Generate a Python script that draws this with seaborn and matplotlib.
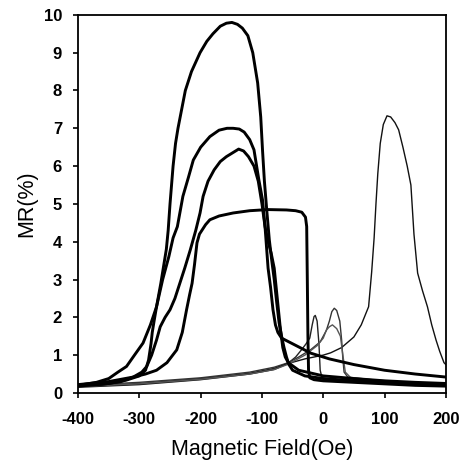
import matplotlib
matplotlib.use("Agg")
import matplotlib.pyplot as plt
import seaborn as sns
import pandas as pd

# ---- data ----
# thick curves (field swept one way)
a_x = [-400, -370, -350, -335, -321, -308, -294, -282, -272, -265, -260, -256, -253, -250, -247, -245, -241, -237, -231, -225, -215, -201, -190, -180, -168, -158, -149, -140, -132, -123, -115, -107, -102, -99, -96, -92, -88, -84, -80, -76, -72, -68, -64, -60, -56, -50, -30, 0, 50, 100, 150, 200]
a_y = [0.2, 0.28, 0.38, 0.55, 0.7, 1.0, 1.32, 1.8, 2.28, 2.9, 3.4, 3.8, 4.3, 5.0, 5.6, 6.0, 6.6, 7.0, 7.5, 8.0, 8.5, 9.0, 9.3, 9.5, 9.7, 9.78, 9.8, 9.75, 9.65, 9.45, 9.0, 8.2, 7.3, 6.4, 5.6, 4.8, 4.05, 3.5, 3.0, 2.4, 1.85, 1.5, 1.2, 0.95, 0.75, 0.6, 0.45, 0.38, 0.32, 0.28, 0.25, 0.22]

b_x = [-400, -350, -321, -300, -290, -285, -281, -279, -276, -272, -262, -252, -245, -238, -229, -220, -212, -200, -185, -170, -157, -147, -137, -129, -120, -113, -105, -99, -95, -90, -86, -82, -78, -74, -68, -50, -20, 10, 50, 100, 150, 200]
b_y = [0.18, 0.25, 0.34, 0.45, 0.6, 0.87, 1.3, 1.6, 1.9, 2.28, 3.0, 3.6, 4.1, 4.4, 5.2, 5.7, 6.16, 6.5, 6.78, 6.95, 7.0, 7.0, 6.98, 6.9, 6.7, 6.43, 5.63, 5.1, 4.4, 3.3, 2.8, 2.2, 1.8, 1.6, 1.45, 1.3, 1.05, 0.9, 0.75, 0.6, 0.5, 0.42]

c_x = [-400, -360, -330, -310, -296, -288, -280, -272, -266, -258, -250, -242, -234, -226, -217, -208, -201, -196, -188, -178, -168, -158, -148, -138, -130, -122, -113, -106, -100, -95, -90, -85, -80, -75, -70, -66, -62, -57, -40, 0, 50, 100, 150, 200]
c_y = [0.2, 0.23, 0.3, 0.42, 0.55, 0.7, 1.0, 1.4, 1.75, 2.0, 2.2, 2.5, 2.9, 3.3, 3.78, 4.3, 4.76, 5.2, 5.6, 5.9, 6.12, 6.25, 6.35, 6.45, 6.4, 6.25, 6.0, 5.6, 5.0, 4.4, 4.0, 3.7, 3.3, 2.5, 1.7, 1.2, 0.95, 0.8, 0.6, 0.45, 0.38, 0.32, 0.28, 0.25]

d_x = [-400, -350, -310, -290, -272, -255, -239, -230, -223, -218, -214, -210, -206, -202, -198, -192, -185, -170, -147, -120, -90, -60, -45, -35, -29, -27, -26, -25, -24, -22, -15, 0, 50, 100, 150, 200]
d_y = [0.22, 0.3, 0.42, 0.5, 0.6, 0.8, 1.14, 1.6, 2.2, 2.6, 2.9, 3.4, 3.97, 4.2, 4.3, 4.45, 4.58, 4.68, 4.76, 4.82, 4.85, 4.84, 4.82, 4.78, 4.65, 4.4, 3.0, 1.5, 0.6, 0.4, 0.35, 0.32, 0.28, 0.24, 0.2, 0.18]

# thin curves (field swept the other way)
t1_x = [-400, -300, -200, -120, -80, -57, -45, -35, -28, -22, -18, -15, -13, -10, -7, -5, -2, 20, 60, 100, 150, 200]
t1_y = [0.18, 0.25, 0.38, 0.52, 0.65, 0.79, 0.95, 1.15, 1.3, 1.45, 1.8, 2.02, 2.05, 1.9, 1.3, 0.6, 0.4, 0.32, 0.28, 0.25, 0.22, 0.2]

t2_x = [-400, -300, -200, -120, -80, -57, -40, -20, -5, 5, 10, 14, 18, 22, 27, 30, 32, 34, 40, 80, 120, 160, 200]
t2_y = [0.2, 0.28, 0.4, 0.55, 0.68, 0.8, 0.95, 1.15, 1.35, 1.65, 1.9, 2.15, 2.24, 2.18, 1.9, 1.4, 0.9, 0.55, 0.42, 0.35, 0.3, 0.25, 0.22]

t3_x = [-400, -300, -200, -120, -80, -57, -30, 0, 12, 30, 50, 62, 74, 79, 83, 86, 89, 93, 98, 104, 110, 117, 123, 130, 137, 143, 148, 154, 162, 170, 177, 184, 190, 197, 200]
t3_y = [0.15, 0.22, 0.35, 0.5, 0.62, 0.78, 0.9, 1.0, 1.06, 1.2, 1.48, 1.8, 2.28, 3.2, 4.1, 5.0, 5.8, 6.6, 7.1, 7.33, 7.3, 7.15, 6.96, 6.5, 6.0, 5.5, 4.2, 3.17, 2.7, 2.28, 1.8, 1.4, 1.1, 0.8, 0.75]

t4_x = [-400, -300, -200, -120, -80, -57, -30, -10, 0, 5, 10, 15, 22, 28, 32, 36, 45, 100, 200]
t4_y = [0.17, 0.24, 0.36, 0.5, 0.62, 0.76, 1.0, 1.25, 1.45, 1.66, 1.75, 1.8, 1.7, 1.5, 1.0, 0.55, 0.4, 0.3, 0.25]

x_ticks = [-400, -300, -200, -100, 0, 100, 200]
y_ticks = [0, 1, 2, 3, 4, 5, 6, 7, 8, 9, 10]

thick = [(a_x, a_y), (b_x, b_y), (c_x, c_y), (d_x, d_y)]
thin = [(t1_x, t1_y, "#222222"), (t2_x, t2_y, "#333333"), (t3_x, t3_y, "#111111"), (t4_x, t4_y, "#555555")]

sns.set_theme(style="ticks")
plt.rcParams["font.family"] = ["Liberation Sans", "DejaVu Sans"]
plt.rcParams["text.color"] = "black"
plt.rcParams["axes.labelcolor"] = "black"

fig = plt.figure(figsize=(4.62, 4.65), dpi=100)
ax = fig.add_axes([0.169, 0.155, 0.796, 0.813])

for xs, ys, col in thin:
    sns.lineplot(x=xs, y=ys, ax=ax, sort=False, estimator=None, color=col, lw=1.0)
for xs, ys in thick:
    sns.lineplot(x=xs, y=ys, ax=ax, sort=False, estimator=None, color="black", lw=2.1)

ax.set_xlim(-400, 200)
ax.set_ylim(0, 10)
ax.set_xticks(x_ticks)
ax.set_yticks(y_ticks)
ax.set_xticklabels([str(v) for v in x_ticks], fontsize=12, fontweight="bold", color="black")
ax.set_yticklabels([str(v) for v in y_ticks], fontsize=12, fontweight="bold", color="black")
ax.tick_params(axis="x", direction="out", length=3.5, width=1.2, colors="black", pad=10)
ax.tick_params(axis="y", direction="out", length=3.5, width=1.2, colors="black", pad=8)
for s in ax.spines.values():
    s.set_visible(True)
    s.set_color("black")
    s.set_linewidth(1.3)
ax.set_xlabel("Magnetic Field(Oe)", fontsize=15.5, labelpad=9, color="black")
ax.set_ylabel("MR(%)", fontsize=15.5, labelpad=5, color="black")

fig.savefig("out.png", dpi=100, facecolor="white")
